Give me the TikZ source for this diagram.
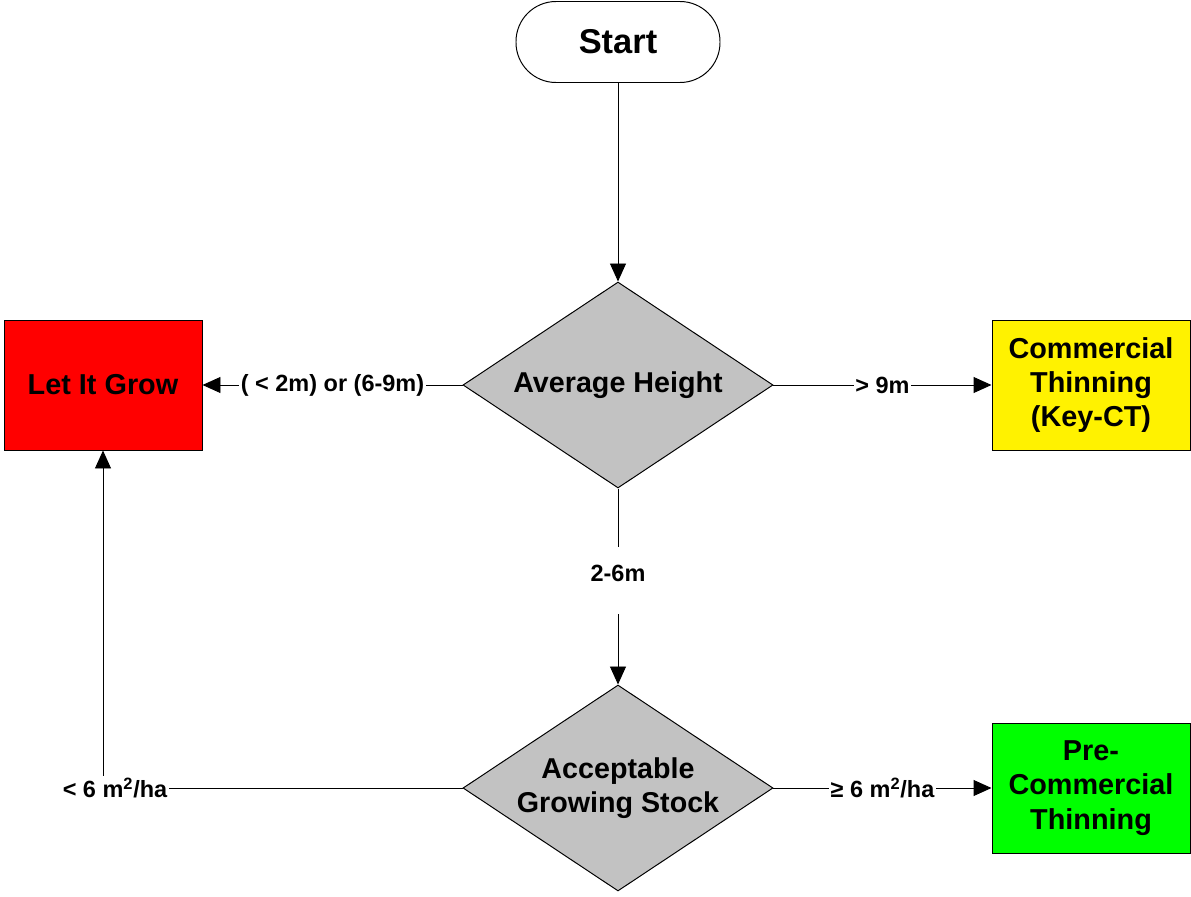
\documentclass[tikz,border=0pt]{standalone}
\usepackage{fontspec}
\setmainfont{Liberation Sans}
\usetikzlibrary{shapes.geometric,arrows.meta}

\begin{document}
\begin{tikzpicture}[>={Triangle[length=4.5mm,width=4mm]}, line width=.7pt,
  term/.style={draw, rounded corners=1cm, minimum width=5.1cm, minimum height=2.025cm, font=\bfseries\fontsize{24.5}{28}\selectfont},
  test/.style={draw, diamond, fill=lightgray!95!white, aspect=1.5, inner sep=0pt, minimum width=7.75cm, minimum height=5.15cm, align=center, font=\bfseries\fontsize{20.4}{24.3}\selectfont},
  action/.style={draw, minimum width=4.95cm, minimum height=3.25cm, align=center, font=\bfseries\fontsize{20.5}{24.3}\selectfont},
  cond/.style={fill=white, inner sep=1pt, font=\bfseries\fontsize{16.7}{19}\selectfont}]
  \useasboundingbox (0,0) rectangle (29.775,-22.425);
  \node [term] (start) at (15.45cm, -1.05cm) {Start};
  \node [test] (height) at (15.45cm, -9.625cm) {Average Height};
  \node [test] (stock) at (15.45cm, -19.7cm) {Acceptable\\Growing Stock};
  \node [action, fill=red] (grow) at (2.575cm, -9.625cm) {Let It Grow};
  \node [action, fill=yellow] (ct) at (27.275cm, -9.625cm) {Commercial\\Thinning\\(Key-CT)};
  \node [action, fill=green] (pct) at (27.275cm, -19.7cm) {Pre-\\Commercial\\Thinning};
  \coordinate (bend) at (grow.south |- stock.west);
  \draw [->] (start) -- (height);
  \draw [->] (height) -- node [cond] {( < 2m) or (6-9m)} (grow);
  \draw [->] (height) -- node [cond] {> 9m} (ct);
  \draw [->] (height) -- node [cond, minimum height=1.675cm, yshift=.15cm, text depth=.35cm] {2-6m} (stock);
  \draw [->] (stock) -- node [cond] {≥ 6 m\textsuperscript{2}/ha} (pct);
  \draw [->] (stock) -- (bend) -- (grow);
  \node [cond, xshift=.3cm] (low) at (bend) {< 6 m\textsuperscript{2}/ha};
\end{tikzpicture}
\end{document}
